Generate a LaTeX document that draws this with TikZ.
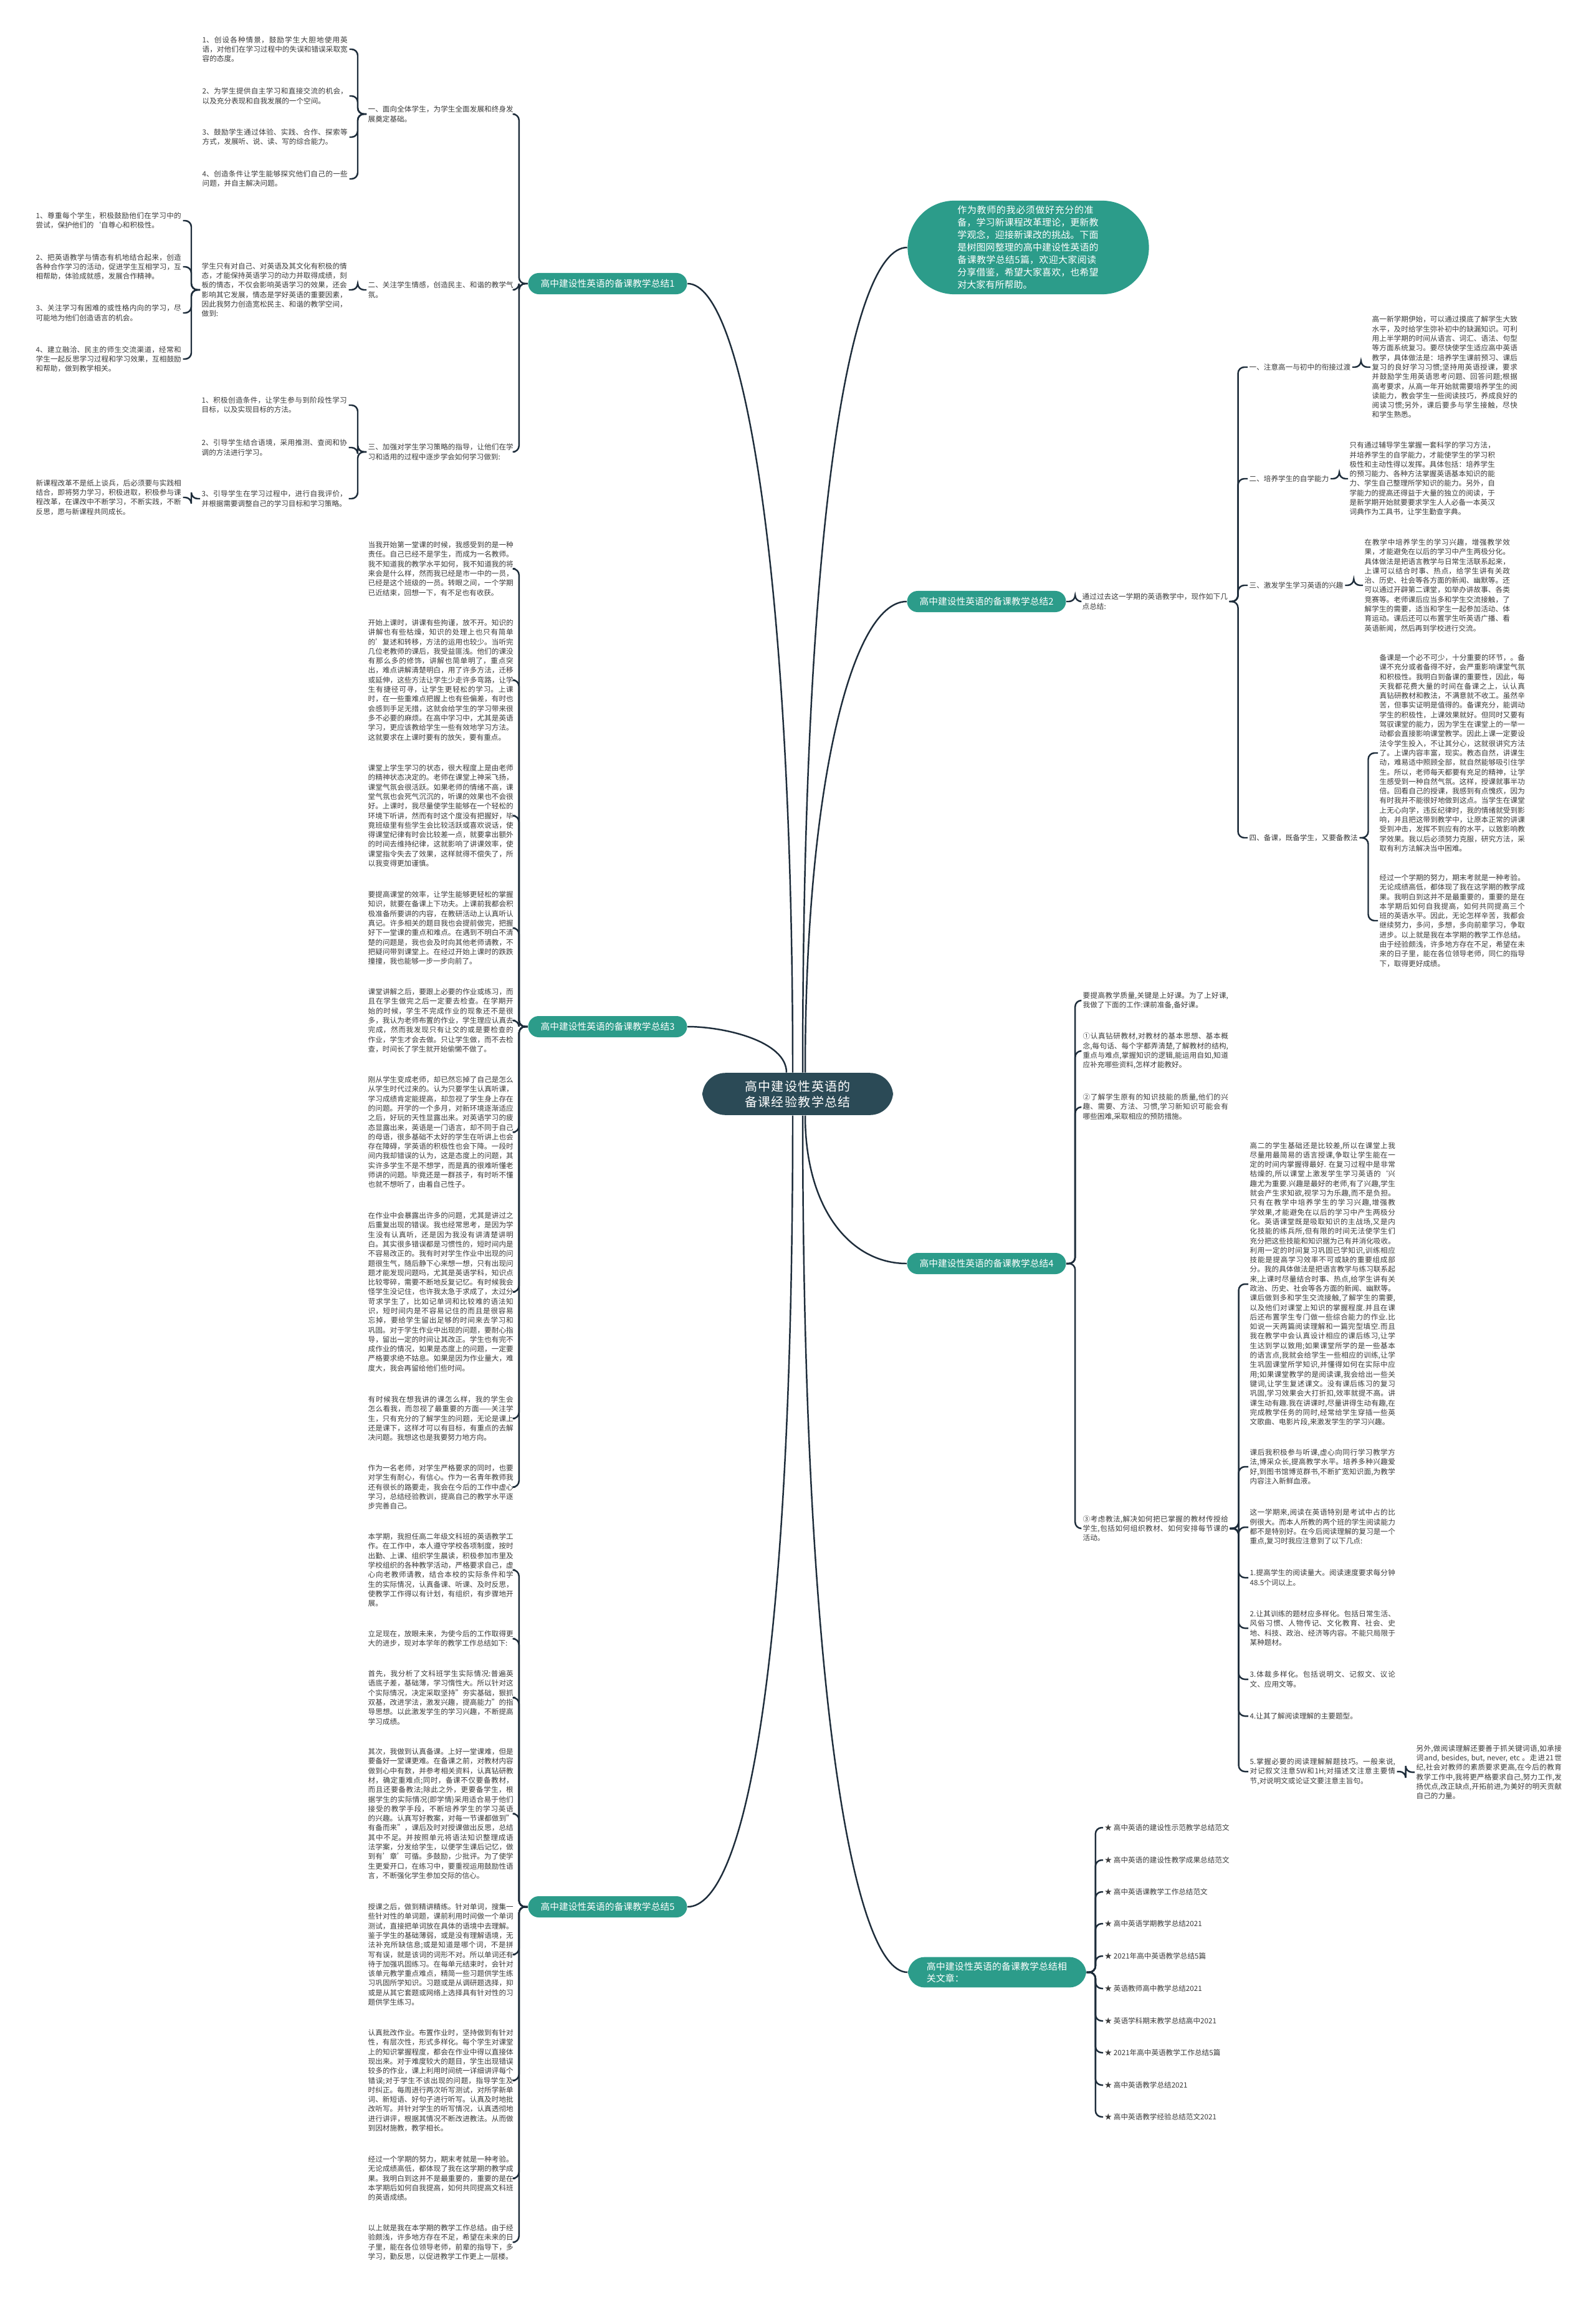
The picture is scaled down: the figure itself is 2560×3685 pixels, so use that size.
\documentclass[tikz,border=0pt]{standalone}
\usepackage{fontspec}
\setmainfont{Noto Sans CJK SC}
\XeTeXlinebreaklocale "zh"
\XeTeXlinebreakskip=0pt plus 0.6pt
\definecolor{tealc}{HTML}{2C9C8A}
\definecolor{slatec}{HTML}{2B4A56}
\definecolor{wirec}{HTML}{1E2D3B}
\definecolor{txtc}{HTML}{3A3A3A}
% parent -> child wires (left and right of the map)
\newcommand\linkl[2]{\draw[wire] (#1.west) -- ++(-14,0) |- (#2.east);}
\newcommand\linkr[2]{\draw[wire] (#1.east) -- ++(14,0) |- (#2.west);}

\begin{document}
\begin{tikzpicture}[x=0.01cm, y=-0.01cm,
	wire/.style={draw=wirec, line width=0.7pt, rounded corners=0.1cm},
	leaf/.style={anchor=west, inner sep=0.02cm, text width=2.33cm, align=justify, text=txtc, font=\fontsize{3.3pt}{4.35pt}\selectfont},
	para/.style={leaf, anchor=north west},
	lab/.style={anchor=west, inner sep=0.02cm, text=txtc, font=\fontsize{3.3pt}{4.35pt}\selectfont},
	sec/.style={fill=tealc, text=white, rounded corners=0.17cm, minimum height=0.34cm, inner xsep=0.2cm, inner ysep=0cm, font=\fontsize{4.2pt}{5pt}\selectfont},
	root/.style={fill=slatec, text=white, rounded corners=0.37cm, text width=2.22cm, align=center, inner xsep=0.42cm, inner ysep=0.12cm, font=\fontsize{5.7pt}{7.1pt}\selectfont},
	hub/.style={fill=tealc, text=white, rounded corners=0.75cm, text width=2.27cm, align=left, inner xsep=0.8cm, inner ysep=0.08cm, font=\fontsize{4.27pt}{5.7pt}\selectfont},
	relbox/.style={fill=tealc, text=white, rounded corners=0.27cm, text width=2.26cm, align=left, inner xsep=0.3cm, inner ysep=0.08cm, font=\fontsize{4.25pt}{5.4pt}\selectfont}]
	\useasboundingbox[fill=white] (0,0) rectangle (2560,3685);

	% Root, intro and main branches:
	\node[root] (root) at (1280,1755) {高中建设性英语的备课经验教学总结};
	\node[hub] (hub) at (1650,397) {作为教师的我必须做好充分的准备，学习新课程改革理论，更新教学观念，迎接新课改的挑战。下面是树图网整理的高中建设性英语的备课教学总结5篇，欢迎大家阅读分享借鉴，希望大家喜欢，也希望对大家有所帮助。};
	\node[sec] (s1) at (975,455) {高中建设性英语的备课教学总结1};
	\node[sec] (s2) at (1583,965) {高中建设性英语的备课教学总结2};
	\node[sec] (s3) at (975,1647) {高中建设性英语的备课教学总结3};
	\node[sec] (s4) at (1583,2027) {高中建设性英语的备课教学总结4};
	\node[sec] (s5) at (975,3059) {高中建设性英语的备课教学总结5};
	\node[relbox] (rel) at (1600,3164) {高中建设性英语的备课教学总结相关文章：};

	\draw[wire] ([xshift=-0.08cm]root.north) .. controls +(0,-800) and +(90,0) .. (s1.east);
	\draw[wire] ([xshift=-0.18cm]root.north) .. controls +(0,-50) and +(60,0) .. (s3.east);
	\draw[wire] ([xshift=0.08cm]root.north) .. controls +(0,-900) and +(-90,0) .. (hub.west);
	\draw[wire] ([xshift=0.12cm]root.north) .. controls +(0,-450) and +(-90,0) .. (s2.west);
	\draw[wire] ([xshift=0.12cm]root.south) .. controls +(0,150) and +(-90,0) .. (s4.west);
	\draw[wire] ([xshift=-0.08cm]root.south) .. controls +(0,900) and +(90,0) .. (s5.east);
	\draw[wire] ([xshift=0.08cm]root.south) .. controls +(0,900) and +(-90,0) .. (rel.west);

	% Branch 1
	\node[leaf] (c1) at (588,183) {一、面向全体学生，为学生全面发展和终身发展奠定基础。};
	\node[leaf] (c2) at (588,465) {二、关注学生情感，创造民主、和谐的教学气氛。};
	\node[leaf] (c3) at (588,725) {三、加强对学生学习策略的指导，让他们在学习和适用的过程中逐步学会如何学习做到:};
	\node[leaf] (l11) at (322,79) {1、创设各种情景，鼓励学生大胆地使用英语，对他们在学习过程中的失误和错误采取宽容的态度。};
	\node[leaf] (l12) at (322,154) {2、为学生提供自主学习和直接交流的机会，以及充分表现和自我发展的一个空间。};
	\node[leaf] (l13) at (322,220) {3、鼓励学生通过体验、实践、合作、探索等方式，发展听、说、读、写的综合能力。};
	\node[leaf] (l14) at (322,287) {4、创造条件让学生能够探究他们自己的一些问题，并自主解决问题。};
	\node[leaf] (m2) at (321,465) {学生只有对自己、对英语及其文化有积极的情态，才能保持英语学习的动力并取得成绩，刻板的情态，不仅会影响英语学习的效果，还会影响其它发展，情态是学好英语的重要因素，因此我努力创造宽松民主、和谐的教学空间，做到:};
	\node[leaf] (l21) at (55,354) {1、尊重每个学生，积极鼓励他们在学习中的尝试，保护他们的`自尊心和积极性。};
	\node[leaf] (l22) at (55,428) {2、把英语教学与情态有机地结合起来，创造各种合作学习的活动，促进学生互相学习，互相帮助，体验成就感，发展合作精神。};
	\node[leaf] (l23) at (55,502) {3、关注学习有困难的或性格内向的学习，尽可能地为他们创造语言的机会。};
	\node[leaf] (l24) at (55,576) {4、建立融洽、民主的师生交流渠道，经常和学生一起反思学习过程和学习效果，互相鼓励和帮助，做到教学相关。};
	\node[leaf] (l31) at (321,650) {1、积极创造条件，让学生参与到阶段性学习目标，以及实现目标的方法。};
	\node[leaf] (l32) at (321,718) {2、引导学生结合语境，采用推测、查阅和协调的方法进行学习。};
	\node[leaf] (l33) at (321,800) {3、引导学生在学习过程中，进行自我评价，并根据需要调整自己的学习目标和学习策略。};
	\node[leaf] (n33) at (55,798) {新课程改革不是纸上谈兵，后必须要与实践相结合，即将努力学习，积极进取，积极参与课程改革，在课改中不断学习，不断实践，不断反思，愿与新课程共同成长。};
	\linkl{s1}{c1} \linkl{s1}{c2} \linkl{s1}{c3}
	\linkl{c1}{l11} \linkl{c1}{l12} \linkl{c1}{l13} \linkl{c1}{l14}
	\linkl{c2}{m2}
	\linkl{m2}{l21} \linkl{m2}{l22} \linkl{m2}{l23} \linkl{m2}{l24}
	\linkl{c3}{l31} \linkl{c3}{l32} \linkl{c3}{l33}
	\linkl{l33}{n33}

	% Branch 2
	\node[leaf] (i2) at (1734,965) {通过过去这一学期的英语教学中，现作如下几点总结:};
	\node[lab] (c21) at (2002,589) {一、注意高一与初中的衔接过渡};
	\node[lab] (c22) at (2002,768) {二、培养学生的自学能力};
	\node[lab] (c23) at (2002,939) {三、激发学生学习英语的兴趣};
	\node[lab] (c24) at (2002,1344) {四、备课，既备学生，又要备教法};
	\node[leaf] (r21) at (2199,589) {高一新学期伊始，可以通过摸底了解学生大致水平，及时给学生弥补初中的缺漏知识。可利用上半学期的时间从语言、词汇、语法、句型等方面系统复习。要尽快使学生适应高中英语教学，具体做法是：培养学生课前预习、课后复习的良好学习习惯;坚持用英语授课，要求并鼓励学生用英语思考问题、回答问题;根据高考要求，从高一年开始就需要培养学生的阅读能力，教会学生一些阅读技巧，养成良好的阅读习惯;另外，课后要多与学生接触，尽快和学生熟悉。};
	\node[leaf] (r22) at (2163,768) {只有通过辅导学生掌握一套科学的学习方法，并培养学生的自学能力，才能使学生的学习积极性和主动性得以发挥。具体包括：培养学生的预习能力、各种方法掌握英语基本知识的能力、学生自己整理所学知识的能力。另外，自学能力的提高还得益于大量的独立的阅读，于是新学期开始就要要求学生人人必备一本英汉词典作为工具书，让学生勤查字典。};
	\node[leaf] (r23) at (2187,939) {在教学中培养学生的学习兴趣，增强教学效果，才能避免在以后的学习中产生两极分化。具体做法是把语言教学与日常生活联系起来，上课可以结合时事、热点，给学生讲有关政治、历史、社会等各方面的新闻、幽默等。还可以通过开辟第二课堂，如举办讲故事、各类竞赛等。老师课后应当多和学生交流接触，了解学生的需要，适当和学生一起参加活动、体育运动。课后还可以布置学生听英语广播、看英语新闻，然后再到学校进行交流。};
	\node[leaf] (r24a) at (2211,1208) {备课是一个必不可少，十分重要的环节，。备课不充分或者备得不好，会严重影响课堂气氛和积极性。我明白到备课的重要性，因此，每天我都花费大量的时间在备课之上，认认真真钻研教材和教法，不满意就不收工。虽然辛苦，但事实证明是值得的。备课充分，能调动学生的积极性，上课效果就好。但同时又要有驾驭课堂的能力，因为学生在课堂上的一举一动都会直接影响课堂教学。因此上课一定要设法令学生投入，不让其分心，这就很讲究方法了。上课内容丰富，现实。教态自然，讲课生动，难易适中照顾全部，就自然能够吸引住学生。所以，老师每天都要有充足的精神，让学生感受到一种自然气氛。这样，授课就事半功倍。回看自己的授课，我感到有点愧疚，因为有时我并不能很好地做到这点。当学生在课堂上无心向学，违反纪律时，我的情绪就受到影响，并且把这带到教学中，让原本正常的讲课受到冲击，发挥不到应有的水平，以致影响教学效果。我以后必须努力克服，研究方法，采取有利方法解决当中困难。};
	\node[leaf] (r24b) at (2211,1477) {经过一个学期的努力，期末考就是一种考验。无论成绩高低，都体现了我在这学期的教学成果。我明白到这并不是最重要的，重要的是在本学期后如何自我提高，如何共同提高三个班的英语水平。因此，无论怎样辛苦，我都会继续努力，多问，多想，多向前辈学习，争取进步。以上就是我在本学期的教学工作总结。由于经验颇浅，许多地方存在不足，希望在未来的日子里，能在各位领导老师，同仁的指导下，取得更好成绩。};
	\linkr{s2}{i2}
	\linkr{i2}{c21} \linkr{i2}{c22} \linkr{i2}{c23} \linkr{i2}{c24}
	\linkr{c21}{r21} \linkr{c22}{r22} \linkr{c23}{r23}
	\linkr{c24}{r24a} \linkr{c24}{r24b}

	% Branch 3
	\node[para] (p1) at (588,866) {当我开始第一堂课的时候，我感受到的是一种责任。自己已经不是学生，而成为一名教师。我不知道我的教学水平如何，我不知道我的将来会是什么样，然而我已经是市一中的一员，已经是这个班级的一员。转眼之间，一个学期已近结束，回想一下，有不足也有收获。};
	\node[para] (p2) at (588,991) {开始上课时，讲课有些拘谨，放不开。知识的讲解也有些枯燥，知识的处理上也只有简单的'复述和转移，方法的运用也较少。当听完几位老教师的课后，我受益匪浅。他们的课没有那么多的修饰，讲解也简单明了，重点突出，难点讲解清楚明白，用了许多方法，迁移或延伸，这些方法让学生少走许多弯路，让学生有捷径可寻，让学生更轻松的学习。上课时，在一些重难点把握上也有些偏差，有时也会感到手足无措，这就会给学生的学习带来很多不必要的麻烦。在高中学习中，尤其是英语学习，更应该教给学生一些有效地学习方法。这就要求在上课时要有的放矢，要有重点。};
	\node[para] (p3) at (588,1224) {课堂上学生学习的状态，很大程度上是由老师的精神状态决定的。老师在课堂上神采飞扬，课堂气氛会很活跃。如果老师的情绪不高，课堂气氛也会死气沉沉的，听课的效果也不会很好。上课时，我尽量使学生能够在一个轻松的环境下听讲，然而有时这个度没有把握好，毕竟班级里有些学生会比较活跃或喜欢说话，使得课堂纪律有时会比较差一点，就要拿出额外的时间去维持纪律，这就影响了讲课效率，使课堂指令失去了效果，这样就得不偿失了，所以我变得更加谨慎。};
	\node[para] (p4) at (588,1427) {要提高课堂的效率，让学生能够更轻松的掌握知识，就要在备课上下功夫。上课前我都会积极准备所要讲的内容，在教研活动上认真听认真记。许多相关的题目我也会提前做完，把握好下一堂课的重点和难点。在遇到不明白不清楚的问题是，我也会及时向其他老师请教，不把疑问带到课堂上。在经过开始上课时的跌跌撞撞，我也能够一步一步向前了。};
	\node[para] (p5) at (588,1583) {课堂讲解之后，要跟上必要的作业或练习，而且在学生做完之后一定要去检查。在学期开始的时候，学生不完成作业的现象还不是很多，我认为老师布置的作业，学生理应认真去完成，然而我发现只有让交的或是要检查的作业，学生才会去做。只让学生做，而不去检查，时间长了学生就开始偷懒不做了。};
	\node[para] (p6) at (588,1724) {刚从学生变成老师，却已然忘掉了自己是怎么从学生时代过来的。认为只要学生认真听课，学习成绩肯定能提高，却忽视了学生身上存在的问题。开学的一个多月，对新环境逐渐适应之后，好玩的天性显露出来。对英语学习的疲态显露出来，英语是一门语言，却不同于自己的母语，很多基础不太好的学生在听讲上也会存在障碍，学英语的积极性也会下降。一段时间内我却错误的认为，这是态度上的问题，其实许多学生不是不想学，而是真的很难听懂老师讲的问题。毕竟还是一群孩子，有时听不懂也就不想听了，由着自己性子。};
	\node[para] (p7) at (588,1942) {在作业中会暴露出许多的问题，尤其是讲过之后重复出现的错误。我也经常思考，是因为学生没有认真听，还是因为我没有讲清楚讲明白。其实很多错误都是习惯性的，短时间内是不容易改正的。我有时对学生作业中出现的问题很生气，随后静下心来想一想，只有出现问题才能发现问题吗，尤其是英语学科，知识点比较零碎，需要不断地反复记忆。有时候我会怪学生没记住，也许我太急于求成了，太过分苛求学生了，比如记单词和比较难的语法知识，短时间内是不容易记住的而且是很容易忘掉，要给学生留出足够的时间来去学习和巩固。对于学生作业中出现的问题，要耐心指导，留出一定的时间让其改正。学生也有完不成作业的情况，如果是态度上的问题，一定要严格要求绝不姑息。如果是因为作业量大，难度大，我会再留给他们些时间。};
	\node[para] (p8) at (588,2237) {有时候我在想我讲的课怎么样，我的学生会怎么看我，而忽视了最重要的方面——关注学生，只有充分的了解学生的问题，无论是课上还是课下，这样才可以有目标，有重点的去解决问题。我想这也是我要努力地方向。};
	\node[para] (p9) at (588,2347) {作为一名老师，对学生严格要求的同时，也要对学生有耐心，有信心。作为一名青年教师我还有很长的路要走，我会在今后的工作中虚心学习，总结经验教训，提高自己的教学水平逐步完善自己。};
	\linkl{s3}{p1} \linkl{s3}{p2} \linkl{s3}{p3} \linkl{s3}{p4} \linkl{s3}{p5}
	\linkl{s3}{p6} \linkl{s3}{p7} \linkl{s3}{p8} \linkl{s3}{p9}

	% Branch 4
	\node[leaf] (s4a) at (1735,1605) {要提高教学质量,关键是上好课。为了上好课,我做了下面的工作:课前准备,备好课。};
	\node[leaf] (s4b) at (1735,1686) {①认真钻研教材,对教材的基本思想、基本概念,每句话、每个字都弄清楚,了解教材的结构,重点与难点,掌握知识的逻辑,能运用自如,知道应补充哪些资料,怎样才能教好。};
	\node[leaf] (s4c) at (1735,1776) {②了解学生原有的知识技能的质量,他们的兴趣、需要、方法、习惯,学习新知识可能会有哪些困难,采取相应的预防措施。};
	\node[leaf] (s4d) at (1735,2452) {③考虑教法,解决如何把已掌握的教材传授给学生,包括如何组织教材、如何安排每节课的活动。};
	\node[leaf] (d1) at (2003,2060) {高二的学生基础还是比较差,所以在课堂上我尽量用最简易的语言授课,争取让学生能在一定的时间内掌握得最好. 在复习过程中是非常枯燥的,所以课堂上激发学生学习英语的`兴趣尤为重要.兴趣是最好的老师,有了兴趣,学生就会产生求知欲,视学习为乐趣,而不是负担。只有在教学中培养学生的学习兴趣,增强教学效果,才能避免在以后的学习中产生两极分化。英语课堂既是吸取知识的主战场,又是内化技能的练兵所,但有限的时间无法使学生们充分把这些技能和知识据为己有并消化吸收。利用一定的时间复习巩固已学知识,训练相应技能是提高学习效率不可或缺的重要组成部分。我的具体做法是把语言教学与练习联系起来,上课时尽量结合时事、热点,给学生讲有关政治、历史、社会等各方面的新闻、幽默等。课后做到多和学生交流接触,了解学生的需要,以及他们对课堂上知识的掌握程度.并且在课后还布置学生专门做一些综合能力的作业.比如说一天两篇阅读理解和一篇完型填空.而且我在教学中会认真设计相应的课后练习,让学生达到学以致用;如果课堂所学的是一些基本的语言点,我就会给学生一些相应的训练,让学生巩固课堂所学知识,并懂得如何在实际中应用;如果课堂教学的是阅读课,我会给出一些关键词,让学生复述课文。没有课后练习的复习巩固,学习效果会大打折扣,效率就提不高。讲课生动有趣.我在讲课时,尽量讲得生动有趣,在完成教学任务的同时,经常给学生穿插一些英文歌曲、电影片段,来激发学生的学习兴趣。};
	\node[leaf] (d2) at (2003,2353) {课后我积极参与听课,虚心向同行学习教学方法,博采众长,提高教学水平。培养多种兴趣爱好,到图书馆博览群书,不断扩宽知识面,为教学内容注入新鲜血液。};
	\node[leaf] (d3) at (2003,2450) {这一学期来,阅读在英语特别是考试中占的比例很大。而本人所教的两个班的学生阅读能力都不是特别好。在今后阅读理解的复习是一个重点,复习时我应注意到了以下几点:};
	\node[leaf] (d4) at (2003,2531) {1.提高学生的阅读量大。阅读速度要求每分钟48.5个词以上。};
	\node[leaf] (d5) at (2003,2612) {2.让其训练的题材应多样化。包括日常生活、风俗习惯、人物传记、文化教育、社会、史地、科技、政治、经济等内容。不能只局限于某种题材。};
	\node[leaf] (d6) at (2003,2694) {3.体裁多样化。包括说明文、记叙文、议论文、应用文等。};
	\node[leaf] (d7) at (2003,2753) {4.让其了解阅读理解的主要题型。};
	\node[leaf] (d8) at (2003,2842) {5.掌握必要的阅读理解解题技巧。一般来说,对记叙文注意5W和1H;对描述文注意主要情节,对说明文或论证文要注意主旨句。};
	\node[leaf] (d9) at (2270,2843) {另外,做阅读理解还要善于抓关键词语,如承接词and, besides, but, never, etc 。走进21世纪,社会对教师的素质要求更高,在今后的教育教学工作中,我将更严格要求自己,努力工作,发扬优点,改正缺点,开拓前进,为美好的明天贡献自己的力量。};
	\linkr{s4}{s4a} \linkr{s4}{s4b} \linkr{s4}{s4c} \linkr{s4}{s4d}
	\linkr{s4d}{d1} \linkr{s4d}{d2} \linkr{s4d}{d3} \linkr{s4d}{d4}
	\linkr{s4d}{d5} \linkr{s4d}{d6} \linkr{s4d}{d7} \linkr{s4d}{d8}
	\linkr{d8}{d9}

	% Branch 5
	\node[para] (q1) at (588,2457) {本学期，我担任高二年级文科班的英语教学工作。在工作中，本人遵守学校各项制度，按时出勤、上课、组织学生晨读，积极参加市里及学校组织的各种教学活动，严格要求自己，虚心向老教师请教，结合本校的实际条件和学生的实际情况，认真备课、听课、及时反思，使教学工作得以有计划，有组织，有步骤地开展。};
	\node[para] (q2) at (588,2613) {立足现在，放眼未来，为使今后的工作取得更大的进步，现对本学年的教学工作总结如下:};
	\node[para] (q3) at (588,2677) {首先，我分析了文科班学生实际情况:普遍英语底子差，基础薄，学习惰性大。所以针对这个实际情况，决定采取坚持"夯实基础，狠抓双基，改进学法，激发兴趣，提高能力"的指导思想。以此激发学生的学习兴趣，不断提高学习成绩。};
	\node[para] (q4) at (588,2802) {其次，我做到认真备课。上好一堂课难，但是要备好一堂课更难。在备课之前，对教材内容做到心中有数，并参考相关资料，认真钻研教材，确定重难点;同时，备课不仅要备教材，而且还要备教法;除此之外，更要备学生，根据学生的实际情况(即学情)采用适合易于他们接受的教学手段，不断培养学生的学习英语的兴趣。认真写好教案，对每一节课都做到"有备而来"，课后及时对授课做出反思，总结其中不足。并按照单元将语法知识整理成语法学案，分发给学生，以便学生课后记忆，做到有'章'可循。多鼓励，少批评。为了使学生更爱开口，在练习中，要重视运用鼓励性语言，不断强化学生参加交际的信心。};
	\node[para] (q5) at (588,3051) {授课之后，做到精讲精练。针对单词，搜集一些针对性的单词题，课前利用时间做一个单词测试，直接把单词放在具体的语境中去理解。鉴于学生的基础薄弱，或是没有理解语境，无法补充所缺信息;或是知道是哪个词，不是拼写有误，就是该词的词形不对。所以单词还有待于加强巩固练习。在每单元结束时，会针对该单元教学重点难点，精简一些习题供学生练习巩固所学知识。习题或是从调研题选择，抑或是从其它套题或网络上选择具有针对性的习题供学生练习。};
	\node[para] (q6) at (588,3253) {认真批改作业。布置作业时，坚持做到有针对性，有层次性，形式多样化。每个学生对课堂上的知识掌握程度，都会在作业中得以直接体现出来。对于难度较大的题目，学生出现错误较多的作业，课上利用时间统一详细讲评每个错误;对于学生不该出现的问题，指导学生及时纠正。每周进行两次听写测试，对所学新单词、新短语、好句子进行听写。认真及时地批改听写。并针对学生的听写情况，认真透彻地进行讲评，根据其情况不断改进教法。从而做到因材施教，教学相长。};
	\node[para] (q7) at (588,3456) {经过一个学期的努力，期末考就是一种考验。无论成绩高低，都体现了我在这学期的教学成果。我明白到这并不是最重要的，重要的是在本学期后如何自我提高，如何共同提高文科班的英语成绩。};
	\node[para] (q8) at (588,3566) {以上就是我在本学期的教学工作总结。由于经验颇浅，许多地方存在不足，希望在未来的日子里，能在各位领导老师，前辈的指导下，多学习，勤反思，以促进教学工作更上一层楼。};
	\linkl{s5}{q1} \linkl{s5}{q2} \linkl{s5}{q3} \linkl{s5}{q4}
	\linkl{s5}{q5} \linkl{s5}{q6} \linkl{s5}{q7} \linkl{s5}{q8}

	% Related articles
	\node[lab] (a1) at (1770,2932) {★ 高中英语的建设性示范教学总结范文};
	\node[lab] (a2) at (1770,2984) {★ 高中英语的建设性教学成果总结范文};
	\node[lab] (a3) at (1770,3035) {★ 高中英语课教学工作总结范文};
	\node[lab] (a4) at (1770,3086) {★ 高中英语学期教学总结2021};
	\node[lab] (a5) at (1770,3138) {★ 2021年高中英语教学总结5篇};
	\node[lab] (a6) at (1770,3190) {★ 英语教师高中教学总结2021};
	\node[lab] (a7) at (1770,3242) {★ 英语学科期末教学总结高中2021};
	\node[lab] (a8) at (1770,3293) {★ 2021年高中英语教学工作总结5篇};
	\node[lab] (a9) at (1770,3345) {★ 高中英语教学总结2021};
	\node[lab] (a10) at (1770,3396) {★ 高中英语教学经验总结范文2021};
	\linkr{rel}{a1} \linkr{rel}{a2} \linkr{rel}{a3} \linkr{rel}{a4} \linkr{rel}{a5}
	\linkr{rel}{a6} \linkr{rel}{a7} \linkr{rel}{a8} \linkr{rel}{a9} \linkr{rel}{a10}
\end{tikzpicture}
\end{document}
